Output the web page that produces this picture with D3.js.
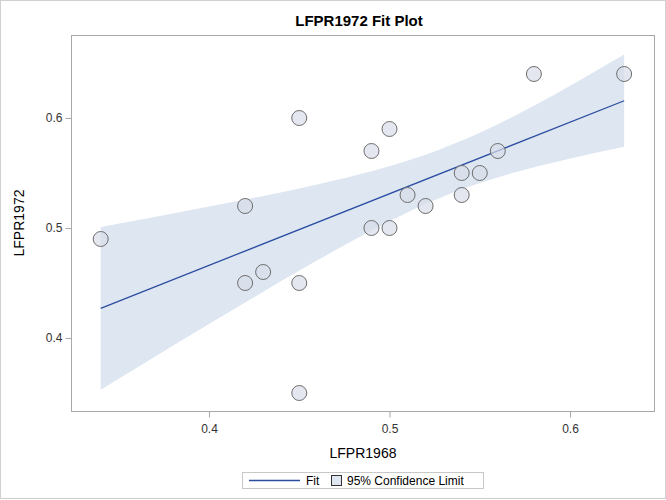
<!DOCTYPE html>
<html><head><meta charset="utf-8">
<script src="https://cdn.jsdelivr.net/npm/d3@7/dist/d3.min.js"></script>
<style>body{margin:0;background:#fff;} text{font-family:"Liberation Sans",Arial,sans-serif;}</style>
</head><body><svg id="c" width="666" height="500"></svg>
<script>
const lfpr1968 = [0.34,0.42,0.42,0.43,0.45,0.45,0.45,0.49,0.49,0.50,0.50,0.51,0.52,0.54,0.54,0.55,0.56,0.58,0.63];
const lfpr1972 = [0.49,0.52,0.45,0.46,0.60,0.45,0.35,0.57,0.50,0.59,0.50,0.53,0.52,0.55,0.53,0.55,0.57,0.64,0.64];
const fitX = [0.34, 0.63];
const fitY = [0.427, 0.6157];
const bandX     = [0.34, 0.37, 0.40, 0.43, 0.46, 0.49, 0.52, 0.55, 0.58, 0.61, 0.63];
const bandUpper = [0.501, 0.5101, 0.5195, 0.5292, 0.5396, 0.5516, 0.5666, 0.5865, 0.6112, 0.6387, 0.6577];
const bandLower = [0.353, 0.3829, 0.4127, 0.4420, 0.4706, 0.4978, 0.5218, 0.5409, 0.5552, 0.5669, 0.5739];
const xTicks = [0.4,0.5,0.6];
const yTicks = [0.4,0.5,0.6];

const svg = d3.select("#c");
svg.append("rect").attr("x",0.5).attr("y",0.5).attr("width",665).attr("height",498)
  .attr("fill","#fff").attr("stroke","#d0d0d0");

const L=72, R=654, T=36, B=411;
const x = d3.scaleLinear().domain([0.4,0.6]).range([209,570]);
const y = d3.scaleLinear().domain([0.4,0.6]).range([338,118]);

const band = bandX.map((v,i)=>({x:v,lo:bandLower[i],hi:bandUpper[i]}));
const g = svg.append("g");
g.append("path").datum(band).attr("fill","#dde6f1").attr("stroke","none")
  .attr("d", d3.area().curve(d3.curveMonotoneX).x(d=>x(d.x)).y0(d=>y(d.lo)).y1(d=>y(d.hi)));
g.append("path").datum(fitX.map((v,i)=>[v,fitY[i]])).attr("fill","none").attr("stroke","#2a4da0").attr("stroke-width",1.3)
  .attr("d", d3.line().x(d=>x(d[0])).y(d=>y(d[1])));

g.selectAll("circle.pt").data(lfpr1968.map((v,i)=>[v,lfpr1972[i]])).join("circle")
  .attr("class","pt").attr("cx",d=>x(d[0])).attr("cy",d=>y(d[1])).attr("r",7.5)
  .attr("fill","#d8dde8").attr("fill-opacity",0.7).attr("stroke","#6e6e6e").attr("stroke-width",1);

// frame
svg.append("rect").attr("x",L-0.5).attr("y",T-0.5).attr("width",R-L+1).attr("height",B-T+1)
  .attr("fill","none").attr("stroke","#a8a8a8");

// axes
const xa = svg.append("g").attr("transform",`translate(0,${B+0.5})`)
  .call(d3.axisBottom(x).tickValues(xTicks).tickFormat(d3.format(".1f")).tickSize(6).tickSizeOuter(0));
const ya = svg.append("g").attr("transform",`translate(${L-0.5},0)`)
  .call(d3.axisLeft(y).tickValues(yTicks).tickFormat(d3.format(".1f")).tickSize(6).tickSizeOuter(0));
[xa,ya].forEach(a=>{a.select(".domain").remove();
  a.selectAll("line").attr("stroke","#a8a8a8");
  a.selectAll("text").attr("fill","#333").style("font-size","12px").style("font-family","'Liberation Sans',Arial,sans-serif");});
xa.selectAll("text").attr("dy","1.05em");

svg.append("text").attr("x",359).attr("y",26).attr("text-anchor","middle")
  .style("font-size","15px").style("font-weight","bold").attr("fill","#000").text("LFPR1972 Fit Plot");
svg.append("text").attr("x",363).attr("y",458).attr("text-anchor","middle")
  .style("font-size","14px").attr("fill","#000").text("LFPR1968");
svg.append("text").attr("transform","translate(24,223) rotate(-90)").attr("text-anchor","middle")
  .style("font-size","14px").attr("fill","#000").text("LFPR1972");

// legend
const lg = svg.append("g");
lg.append("rect").attr("x",242.5).attr("y",472.5).attr("width",241).attr("height",16)
  .attr("fill","#fff").attr("stroke","#c8c8c8");
lg.append("line").attr("x1",249).attr("x2",300).attr("y1",480.5).attr("y2",480.5).attr("stroke","#2a4da0").attr("stroke-width",1.3);
lg.append("text").attr("x",306).attr("y",485).style("font-size","12px").attr("fill","#000").text("Fit");
lg.append("rect").attr("x",331.5).attr("y",475.5).attr("width",10).attr("height",10)
  .attr("fill","#dde6f1").attr("stroke","#333");
lg.append("text").attr("x",347).attr("y",485).style("font-size","12px").attr("fill","#000").text("95% Confidence Limit");
</script></body></html>
